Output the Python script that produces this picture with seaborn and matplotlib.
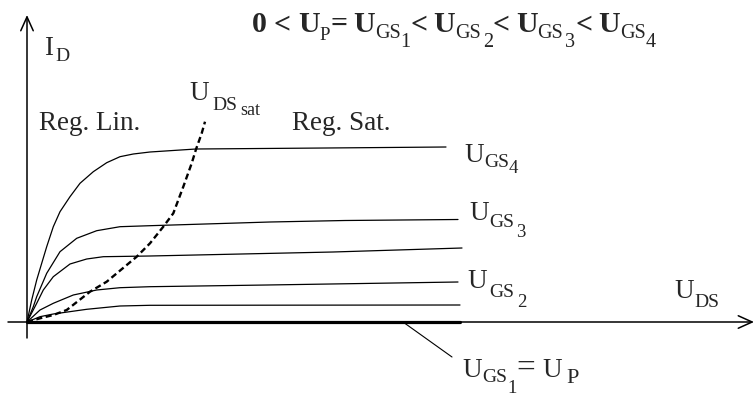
import matplotlib
matplotlib.use("Agg")
import matplotlib.pyplot as plt
import seaborn as sns

# Output characteristics I_D(U_DS) of an enhancement MOSFET, drawn in
# schematic units (one unit = one pixel of the figure).
ugs4_x = [0, 4.7, 9.7, 14.7, 19.7, 26.3, 33, 43, 53, 66.3, 79.7, 93, 106.3, 123, 169, 299, 419]
ugs4_y = [0, 22, 42, 58.7, 75.3, 95.3, 110.3, 125.3, 138.7, 150.3, 159.3, 165.3, 168, 170, 173, 174, 175]

ugs3_x = [0, 6.3, 9.7, 19.7, 33, 49.7, 69.7, 93, 123, 243, 318, 431]
ugs3_y = [0, 15.3, 25.3, 48.7, 70.3, 83.7, 91.3, 95.3, 96.3, 100, 101.5, 102.5]

ugsx_x = [0, 9.7, 16.3, 26.3, 43, 59.7, 76.3, 123, 306, 435]
ugsx_y = [0, 18.7, 32, 45.3, 58, 63, 65.3, 66, 70, 74]

ugs2_x = [0, 13, 26.3, 46.3, 69.7, 93, 123, 240, 431]
ugs2_y = [0, 12, 18.7, 27, 32, 34.3, 35.3, 37, 40]

ugs0_x = [0, 13, 26.3, 59.7, 93, 123, 433]
ugs0_y = [0, 5.3, 8, 12.7, 16, 16.7, 17]

# U_GS1 = U_P: no drain current
ugs1_x = [0, 433]
ugs1_y = [0, 0]

# boundary between linear and saturation region
sat_x = [0, 13, 26.3, 39.7, 63, 79.7, 109.7, 123, 136.3, 146.3, 156.3, 164.7, 169, 174.7, 178]
sat_y = [0, 3.7, 7, 12, 30.3, 40.3, 65.3, 78.7, 95.3, 108.7, 135.3, 158.7, 172.7, 188.7, 200.3]

sns.set_theme(style="white")
plt.rcParams["font.family"] = ["Liberation Serif", "DejaVu Serif"]

fig = plt.figure(figsize=(7.55, 3.98), dpi=100)
ax = fig.add_axes([0, 0, 1, 1])
ax.set_xlim(-27, 728)
ax.set_ylim(-76, 322)
ax.axis("off")

# axes with open arrow heads
arrow = dict(arrowstyle="->,head_length=1.0,head_width=0.45", lw=1.1,
             color="black", shrinkA=0, shrinkB=0, mutation_scale=10)
ax.annotate("", xy=(727, 0), xytext=(-19, 0), arrowprops=arrow)
ax.annotate("", xy=(0, 307), xytext=(0, -16), arrowprops=arrow)

for cx, cy in [(ugs4_x, ugs4_y), (ugs3_x, ugs3_y), (ugsx_x, ugsx_y),
               (ugs2_x, ugs2_y), (ugs0_x, ugs0_y)]:
    sns.lineplot(x=cx, y=cy, ax=ax, color="black", lw=0.9,
                 estimator=None, sort=False)
sns.lineplot(x=ugs1_x, y=ugs1_y, ax=ax, color="black", lw=2.3,
             estimator=None, sort=False)
sns.lineplot(x=sat_x, y=sat_y, ax=ax, color="black", lw=1.7,
             estimator=None, sort=False, linestyle=(0, (2.6, 1.5)))

# leader line to the U_GS1 label
ax.plot([376, 425], [0, -35], color="black", lw=0.8)

renderer = fig.canvas.get_renderer()


def label(runs):
    """Each run: (text, left x in px, baseline y in px from top, size, weight)."""
    for s, x, y, size, weight in runs:
        ax.text(x - 27, 322 - y, s, fontsize=size, fontweight=weight,
                va="baseline", ha="left")


def write(x, y, runs):
    """Runs set side by side from (x, y) in px; each is (text, size, drop, weight, gap)."""
    cx = x - 27
    for s, size, drop, weight, gap in runs:
        cx += gap
        t = ax.text(cx, 322 - y - drop, s, fontsize=size, fontweight=weight,
                    va="baseline", ha="left")
        cx += t.get_window_extent(renderer).width


M, S = 19.5, 14
label([("I", 44, 55, M, "normal"), ("D", 55, 61, S, "normal")])
label([("Reg. Lin.", 39, 130, M, "normal")])
label([("Reg. Sat.", 292, 130, M, "normal")])
label([("U", 189, 100, M, "normal"), ("DS", 212, 110, S, "normal"),
       ("sat", 240, 115, 13, "normal")])
label([("U", 464, 162, M, "normal"), ("GS", 484, 167, S, "normal"),
       ("4", 509, 173, 13.5, "normal")])
label([("U", 469, 220, M, "normal"), ("GS", 489, 227, S, "normal"),
       ("3", 516, 237, 13.5, "normal")])
label([("U", 467, 288, M, "normal"), ("GS", 489, 297, S, "normal"),
       ("2", 517, 307, 13.5, "normal")])
label([("U", 674, 298, M, "normal"), ("DS", 694, 307, S, "normal")])
label([("U", 462, 377, M, "normal"), ("GS", 482, 382, S, "normal"),
       ("1", 507, 393, 13.5, "normal"), ("=", 516, 377, 24, "normal"),
       ("U", 542, 377, M, "normal"), ("P", 566, 383, 16, "normal")])

# condition on the gate-source voltages
T, TS, TP = 21.5, 14.5, 13.5
B, R = "bold", "normal"
write(252, 32, [("0", T, 0, B, 0), ("<", T, 0, B, 7),
                ("U", T, 0, B, 7), ("P", TP, 8, R, 0), ("=", T, 0, B, 0),
                ("U", T, 0, B, 6), ("GS", TS, 6, R, 0), ("1", TS, 15, R, 0),
                ("<", T, 0, B, 0),
                ("U", T, 0, B, 6), ("GS", TS, 6, R, 0), ("2", TS, 15, R, 2),
                ("<", T, 0, B, 0),
                ("U", T, 0, B, 6), ("GS", TS, 6, R, 0), ("3", TS, 15, R, 2),
                ("<", T, 0, B, 0),
                ("U", T, 0, B, 6), ("GS", TS, 6, R, 0), ("4", TS, 15, R, 0)])

fig.savefig("out.png", dpi=100, facecolor="white")
